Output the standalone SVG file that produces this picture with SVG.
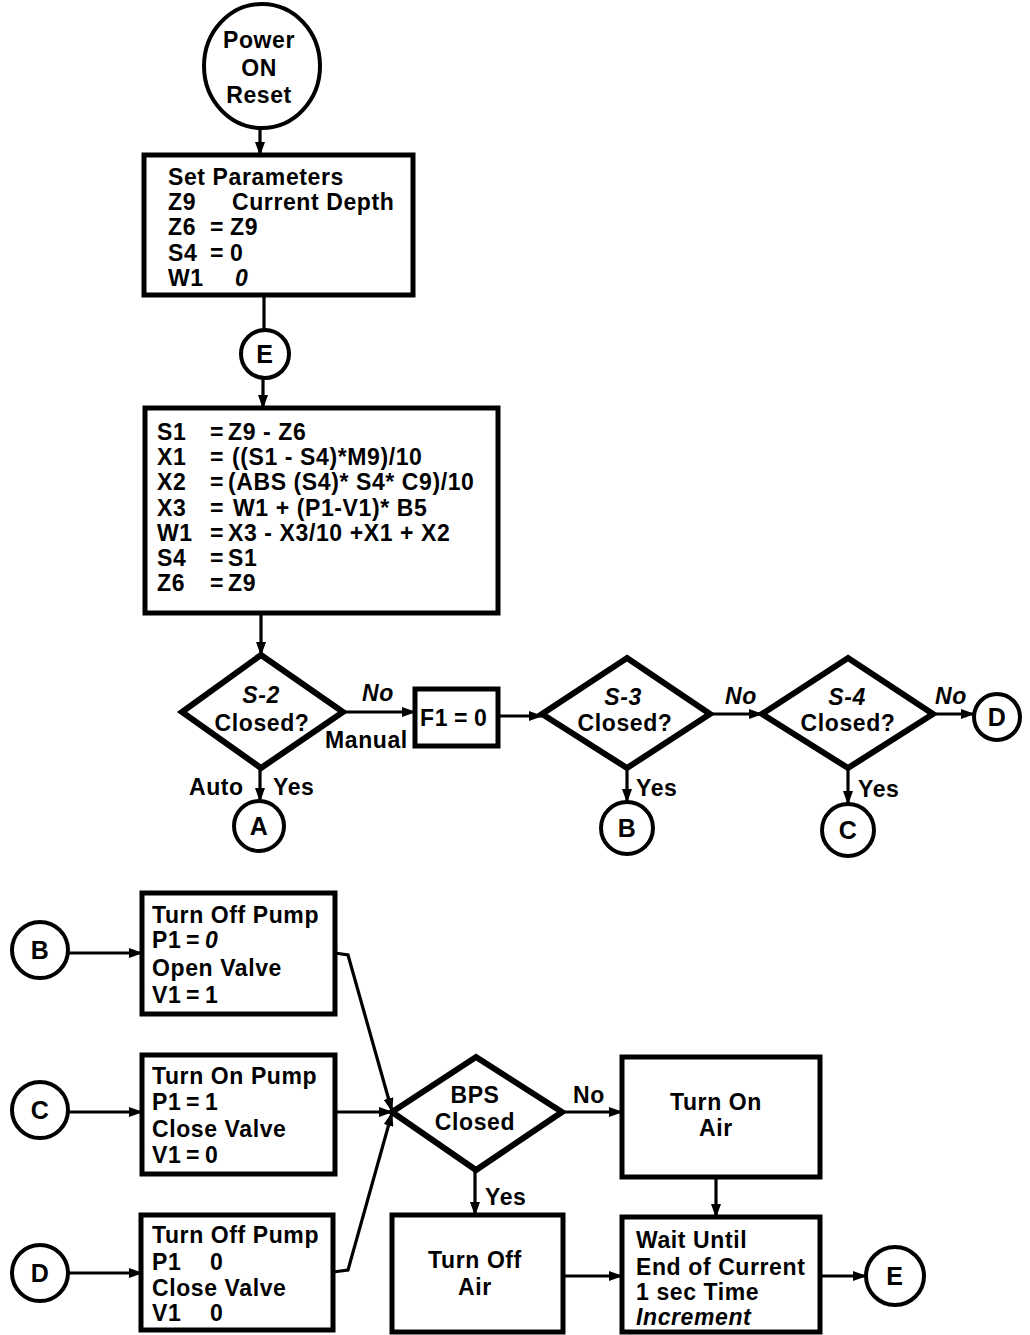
<svg xmlns="http://www.w3.org/2000/svg" width="1030" height="1335" viewBox="0 0 1030 1335">
<style>
.bg{fill:#fff}
.box{fill:#fff;stroke:#000;stroke-width:5}
.dia{fill:#fff;stroke:#000;stroke-width:6;stroke-linejoin:miter}
.circ{fill:#fff;stroke:#000;stroke-width:4}
.conn{fill:none;stroke:#000;stroke-width:3.2;marker-end:url(#ah)}
.plain{fill:none;stroke:#000;stroke-width:3.2}
text{font-family:"Liberation Sans",Arial,Helvetica,sans-serif;font-weight:bold;font-size:23px;letter-spacing:0.6px;fill:#000}
.c{text-anchor:middle}
.i{font-style:italic}
.big{font-size:25px}
</style>
<defs>
<marker id="ah" markerUnits="userSpaceOnUse" markerWidth="14" markerHeight="10" refX="13" refY="5" orient="auto">
<path d="M0,0 L14,5 L0,10 z" fill="#000"/>
</marker>
</defs>
<rect class="bg" x="0" y="0" width="1030" height="1335"/>

<g id="connectors">
<line class="conn" x1="260" y1="128" x2="260" y2="155"/>
<line class="plain" x1="264" y1="295" x2="264" y2="331"/>
<line class="conn" x1="263" y1="378" x2="263" y2="408"/>
<line class="conn" x1="261" y1="613" x2="261" y2="655"/>
<line class="conn" x1="343" y1="712" x2="415" y2="712"/>
<line class="conn" x1="498" y1="716" x2="542" y2="716"/>
<line class="conn" x1="710" y1="714" x2="762" y2="714"/>
<line class="conn" x1="933" y1="714" x2="974" y2="714"/>
<line class="conn" x1="260" y1="768" x2="260" y2="801"/>
<line class="conn" x1="627" y1="768" x2="627" y2="802"/>
<line class="conn" x1="848" y1="768" x2="848" y2="804"/>
<line class="conn" x1="68" y1="953" x2="142" y2="953"/>
<line class="conn" x1="68" y1="1112" x2="142" y2="1112"/>
<line class="conn" x1="68" y1="1273" x2="142" y2="1273"/>
<polyline class="conn" points="335,953 348,955 392,1111"/>
<line class="conn" x1="335" y1="1112" x2="392" y2="1112"/>
<polyline class="conn" points="333,1272 348,1270 392,1113"/>
<line class="conn" x1="562" y1="1112" x2="622" y2="1112"/>
<line class="conn" x1="475" y1="1170" x2="475" y2="1215"/>
<line class="conn" x1="716" y1="1177" x2="716" y2="1217"/>
<line class="conn" x1="563" y1="1276" x2="622" y2="1276"/>
<line class="conn" x1="820" y1="1276" x2="866" y2="1276"/>
</g>

<g id="power">
<ellipse class="circ" cx="262" cy="66" rx="58" ry="62"/>
<text class="c" x="259" y="48">Power</text>
<text class="c" x="259" y="76">ON</text>
<text class="c" x="259" y="103">Reset</text>
</g>

<g id="setparams">
<rect class="box" x="144" y="155" width="269" height="140"/>
<text x="168" y="185">Set Parameters</text>
<text x="168" y="210">Z9</text><text x="232" y="210">Current Depth</text>
<text x="168" y="235">Z6</text><text x="210" y="235">=</text><text x="230" y="235">Z9</text>
<text x="168" y="261">S4</text><text x="210" y="261">=</text><text x="230" y="261">0</text>
<text x="168" y="286">W1</text><text class="i" x="235" y="286">0</text>
</g>

<g id="e1">
<circle class="circ" cx="265" cy="354" r="24"/>
<text class="c big" x="265" y="363">E</text>
</g>

<g id="calc">
<rect class="box" x="145" y="408" width="353" height="205"/>
<text x="157" y="440">S1</text><text x="210" y="440">=</text><text x="228" y="440">Z9 - Z6</text>
<text x="157" y="465">X1</text><text x="210" y="465">=</text><text x="232" y="465">((S1 - S4)*M9)/10</text>
<text x="157" y="490">X2</text><text x="210" y="490">=</text><text x="228" y="490">(ABS (S4)* S4* C9)/10</text>
<text x="157" y="516">X3</text><text x="210" y="516">=</text><text x="233" y="516">W1 + (P1-V1)* B5</text>
<text x="157" y="541">W1</text><text x="210" y="541">=</text><text x="228" y="541">X3 - X3/10 +X1 + X2</text>
<text x="157" y="566">S4</text><text x="210" y="566">=</text><text x="228" y="566">S1</text>
<text x="157" y="591">Z6</text><text x="210" y="591">=</text><text x="228" y="591">Z9</text>
</g>

<g id="s2">
<polygon class="dia" points="261,655 343,712 261,768 182,712"/>
<text class="c i" x="261" y="703">S-2</text>
<text class="c" x="262" y="731">Closed?</text>
<text class="i" x="362" y="701">No</text>
<text x="325" y="748">Manual</text>
<text x="189" y="795">Auto</text>
<text x="273" y="795">Yes</text>
</g>

<g id="f1">
<rect class="box" x="415" y="689" width="83" height="57"/>
<text x="420" y="726">F1</text><text x="454" y="726">=</text><text x="474" y="726">0</text>
</g>

<g id="s3">
<polygon class="dia" points="627,658 710,714 627,768 542,714"/>
<text class="c i" x="623" y="705">S-3</text>
<text class="c" x="625" y="731">Closed?</text>
<text class="i" x="725" y="704">No</text>
<text x="636" y="796">Yes</text>
</g>

<g id="s4">
<polygon class="dia" points="848,658 933,714 848,768 762,714"/>
<text class="c i" x="847" y="705">S-4</text>
<text class="c" x="848" y="731">Closed?</text>
<text class="i" x="935" y="704">No</text>
<text x="858" y="797">Yes</text>
</g>

<g id="a"><circle class="circ" cx="259" cy="826" r="25"/><text class="c big" x="259" y="835">A</text></g>
<g id="b1"><circle class="circ" cx="627" cy="828" r="26"/><text class="c big" x="627" y="837">B</text></g>
<g id="c1"><circle class="circ" cx="848" cy="830" r="26"/><text class="c big" x="848" y="839">C</text></g>
<g id="d1"><circle class="circ" cx="997" cy="717" r="23"/><text class="c big" x="997" y="726">D</text></g>

<g id="b2"><circle class="circ" cx="40" cy="950" r="28"/><text class="c big" x="40" y="959">B</text></g>
<g id="c2"><circle class="circ" cx="40" cy="1110" r="28"/><text class="c big" x="40" y="1119">C</text></g>
<g id="d2"><circle class="circ" cx="40" cy="1273" r="28"/><text class="c big" x="40" y="1282">D</text></g>

<g id="pumpoff1">
<rect class="box" x="142" y="893" width="193" height="121"/>
<text x="152" y="923">Turn Off Pump</text>
<text x="152" y="948">P1</text><text x="186" y="948">=</text><text class="i" x="205" y="948">0</text>
<text x="152" y="976">Open Valve</text>
<text x="152" y="1003">V1</text><text x="186" y="1003">=</text><text x="205" y="1003">1</text>
</g>

<g id="pumpon">
<rect class="box" x="142" y="1055" width="193" height="119"/>
<text x="152" y="1084">Turn On Pump</text>
<text x="152" y="1110">P1</text><text x="186" y="1110">=</text><text x="205" y="1110">1</text>
<text x="152" y="1137">Close Valve</text>
<text x="152" y="1163">V1</text><text x="186" y="1163">=</text><text x="205" y="1163">0</text>
</g>

<g id="pumpoff2">
<rect class="box" x="141" y="1215" width="192" height="115"/>
<text x="152" y="1243">Turn Off Pump</text>
<text x="152" y="1270">P1</text><text x="210" y="1270">0</text>
<text x="152" y="1296">Close Valve</text>
<text x="152" y="1321">V1</text><text x="210" y="1321">0</text>
</g>

<g id="bps">
<polygon class="dia" points="476,1057 562,1112 476,1170 392,1112"/>
<text class="c" x="475" y="1103">BPS</text>
<text class="c" x="475" y="1130">Closed</text>
<text x="573" y="1103">No</text>
<text x="485" y="1205">Yes</text>
</g>

<g id="airon">
<rect class="box" x="622" y="1057" width="198" height="120"/>
<text class="c" x="716" y="1110">Turn On</text>
<text class="c" x="716" y="1136">Air</text>
</g>

<g id="airoff">
<rect class="box" x="392" y="1215" width="171" height="117"/>
<text class="c" x="475" y="1268">Turn Off</text>
<text class="c" x="475" y="1295">Air</text>
</g>

<g id="wait">
<rect class="box" x="622" y="1217" width="198" height="115"/>
<text x="636" y="1248">Wait Until</text>
<text x="636" y="1275">End of Current</text>
<text x="636" y="1300">1 sec Time</text>
<text class="i" x="636" y="1325">Increment</text>
</g>

<g id="e2">
<circle class="circ" cx="895" cy="1276" r="29"/>
<text class="c big" x="895" y="1285">E</text>
</g>
</svg>
